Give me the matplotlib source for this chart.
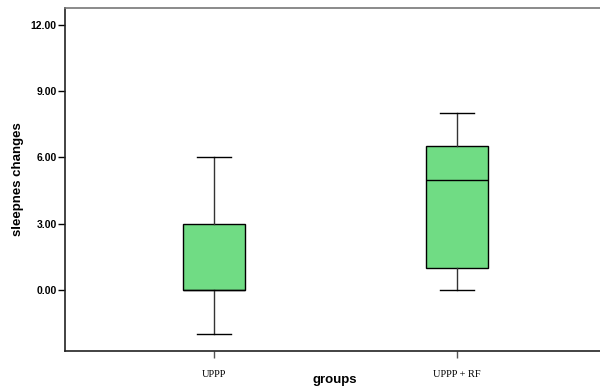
import matplotlib
matplotlib.use("Agg")
import matplotlib.pyplot as plt

# five-number summaries per group
groups = ["UPPP", "UPPP + RF"]
whisker_low = [-2.0, 0.0]
quartile_1 = [0.0, 1.0]
medians = [0.0, 5.0]
quartile_3 = [3.0, 6.5]
whisker_high = [6.0, 8.0]
y_ticks = [0.0, 3.0, 6.0, 9.0, 12.0]

stats = []
for i, name in enumerate(groups):
    stats.append({
        "label": name,
        "whislo": whisker_low[i],
        "q1": quartile_1[i],
        "med": medians[i],
        "q3": quartile_3[i],
        "whishi": whisker_high[i],
        "fliers": [],
    })

fig = plt.figure(figsize=(6, 3.9), dpi=100)
ax = fig.add_axes([65 / 600, 39 / 390, 541 / 600, 343 / 390])

ax.bxp(stats, positions=[1, 2], widths=0.255, patch_artist=True,
       showfliers=False,
       boxprops=dict(facecolor="#70dc84", edgecolor="black", linewidth=1.0),
       medianprops=dict(color="black", linewidth=1.0),
       whiskerprops=dict(color="#333333", linewidth=1.0),
       capprops=dict(color="black", linewidth=1.0),
       capwidths=0.14)

ax.set_xlim(0.387, 2.613)
ax.set_ylim(-2.76, 12.76)

ax.set_yticks(y_ticks)
ax.set_yticklabels([f"{v:.2f}" for v in y_ticks], fontsize=7.5,
                   fontweight="bold", family="Liberation Sans")
ax.set_xticks([1, 2])
ax.set_xticklabels(groups, fontsize=7.5, family="Liberation Serif")
ax.tick_params(axis="y", length=5, width=1, pad=1)
ax.tick_params(axis="x", length=5, width=1, pad=9, color="#555555")

for side in ["left", "bottom"]:
    ax.spines[side].set_linewidth(1.2)
    ax.spines[side].set_color("#222222")
ax.spines["top"].set_color("#777777")
ax.spines["top"].set_linewidth(1.2)
ax.spines["right"].set_visible(False)

ax.set_ylabel("sleepnes changes", fontsize=9.5, fontweight="bold",
              family="Liberation Sans", va="center")
ax.yaxis.set_label_coords(-0.087, 0.5)
ax.set_xlabel("groups", fontsize=9.5, fontweight="bold",
              family="Liberation Sans", va="center")
ax.xaxis.set_label_coords(0.499, -0.085)

fig.savefig("out.png", dpi=100)
